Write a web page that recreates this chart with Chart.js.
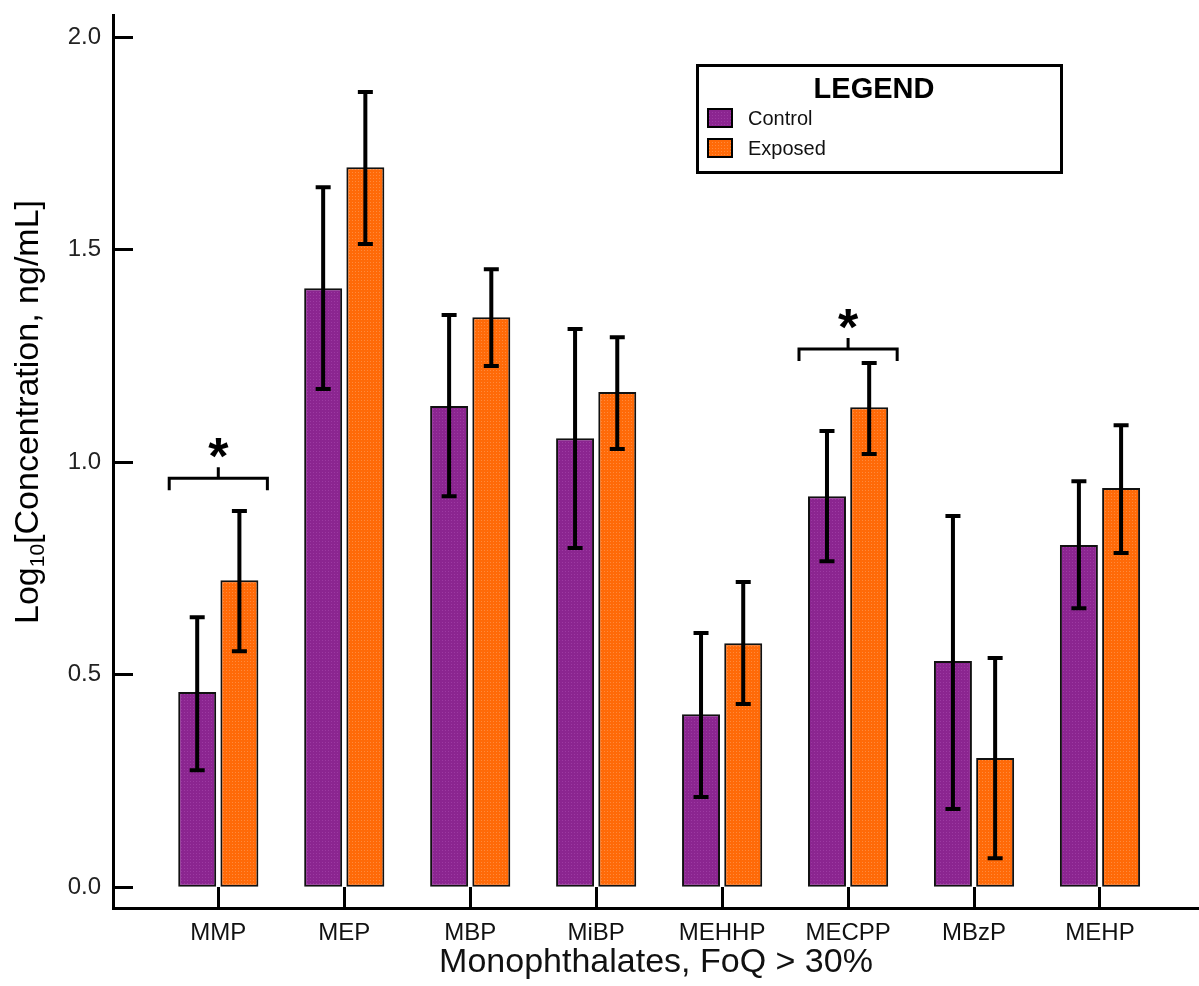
<!DOCTYPE html>
<html>
<head>
<meta charset="utf-8">
<script src="https://cdn.jsdelivr.net/npm/chart.js"></script>
<style>
  html, body { margin: 0; padding: 0; background: #fff; }
</style>
</head>
<body>
<canvas id="myChart" width="1199" height="986"></canvas>
<script>
// data (log10 ng/mL)
const categories = ['MMP', 'MEP', 'MBP', 'MiBP', 'MEHHP', 'MECPP', 'MBzP', 'MEHP'];
const controlMean = [0.459, 1.409, 1.132, 1.056, 0.407, 0.920, 0.532, 0.805];
const controlLow  = [0.275, 1.172, 0.920, 0.798, 0.212, 0.767, 0.184, 0.656];
const controlHigh = [0.635, 1.647, 1.346, 1.313, 0.598, 1.073, 0.873, 0.955];
const exposedMean = [0.722, 1.694, 1.341, 1.165, 0.574, 1.129, 0.304, 0.939];
const exposedLow  = [0.555, 1.513, 1.226, 1.031, 0.431, 1.019, 0.068, 0.786];
const exposedHigh = [0.885, 1.871, 1.454, 1.294, 0.718, 1.233, 0.539, 1.087];
const yTicks = [0, 0.5, 1.0, 1.5, 2.0];
const sigCategories = ['MMP', 'MECPP'];
const sigLevel = [0.962, 1.266];

const FONT = '"Liberation Sans", Arial, sans-serif';

// dotted fill like the original bars
function dots(base, dot) {
  const c = document.createElement('canvas');
  c.width = 3; c.height = 3;
  const g = c.getContext('2d');
  g.fillStyle = base; g.fillRect(0, 0, 3, 3);
  g.fillStyle = dot; g.fillRect(1, 1, 1, 1);
  return g.createPattern(c, 'repeat');
}
const purple = '#8B2590';
const orange = '#FF6A08';

const errorBars = {
  id: 'errorBars',
  afterDatasetsDraw(chart) {
    const ctx = chart.ctx, y = chart.scales.y;
    [[controlLow, controlHigh], [exposedLow, exposedHigh]].forEach(([lo, hi], d) => {
      chart.getDatasetMeta(d).data.forEach((bar, i) => {
        const yl = y.getPixelForValue(lo[i]), yh = y.getPixelForValue(hi[i]);
        ctx.save();
        ctx.strokeStyle = '#000';
        ctx.lineWidth = 4;
        ctx.beginPath();
        ctx.moveTo(bar.x, yl); ctx.lineTo(bar.x, yh);
        ctx.moveTo(bar.x - 7.5, yl); ctx.lineTo(bar.x + 7.5, yl);
        ctx.moveTo(bar.x - 7.5, yh); ctx.lineTo(bar.x + 7.5, yh);
        ctx.stroke();
        ctx.restore();
      });
    });
  }
};

const brackets = {
  id: 'brackets',
  afterDatasetsDraw(chart) {
    const ctx = chart.ctx, y = chart.scales.y;
    sigCategories.forEach((name, k) => {
      const i = categories.indexOf(name);
      const c = chart.getDatasetMeta(0).data[i], e = chart.getDatasetMeta(1).data[i];
      const x1 = c.x - c.width / 2 - 9, x2 = e.x + e.width / 2 + 9, mid = (x1 + x2) / 2;
      const yb = y.getPixelForValue(sigLevel[k]);
      ctx.save();
      ctx.strokeStyle = '#000';
      ctx.lineWidth = 3;
      ctx.beginPath();
      ctx.moveTo(x1, yb + 12); ctx.lineTo(x1, yb); ctx.lineTo(x2, yb); ctx.lineTo(x2, yb + 12);
      ctx.moveTo(mid, yb); ctx.lineTo(mid, yb - 11);
      ctx.stroke();
      ctx.fillStyle = '#000';
      ctx.font = 'bold 52px ' + FONT;
      ctx.textAlign = 'center';
      ctx.textBaseline = 'alphabetic';
      ctx.fillText('*', mid, yb - 4);
      ctx.restore();
    });
  }
};

const boxLegend = {
  id: 'boxLegend',
  afterDraw(chart) {
    const ctx = chart.ctx;
    ctx.save();
    ctx.strokeStyle = '#000';
    ctx.lineWidth = 3;
    ctx.strokeRect(697.5, 65.5, 364, 107);
    ctx.fillStyle = '#000';
    ctx.font = 'bold 29px ' + FONT;
    ctx.textAlign = 'center';
    ctx.fillText('LEGEND', 874, 98);
    ctx.textAlign = 'left';
    ctx.font = '20px ' + FONT;
    chart.data.datasets.forEach((ds, i) => {
      const top = 109 + i * 30;
      ctx.fillStyle = ds.backgroundColor;
      ctx.fillRect(708, top, 24, 18);
      ctx.lineWidth = 2;
      ctx.strokeRect(708, top, 24, 18);
      ctx.fillStyle = '#111';
      ctx.fillText(ds.label, 748, top + 16);
    });
    ctx.restore();
  }
};

const yTitle = {
  id: 'yTitle',
  afterDraw(chart) {
    const ctx = chart.ctx;
    const parts = [['Log', 34, 0], ['10', 21, 6], ['[Concentration, ng/mL]', 34, 0]];
    ctx.save();
    ctx.translate(38, 412);
    ctx.rotate(-Math.PI / 2);
    ctx.fillStyle = '#000';
    ctx.textBaseline = 'alphabetic';
    let total = 0;
    parts.forEach(p => { ctx.font = p[1] + 'px ' + FONT; total += ctx.measureText(p[0]).width; });
    let x = -total / 2;
    parts.forEach(p => {
      ctx.font = p[1] + 'px ' + FONT;
      ctx.fillText(p[0], x, p[2]);
      x += ctx.measureText(p[0]).width;
    });
    ctx.restore();
  }
};

function noEdgePadding(s) {
  s.paddingTop = 0; s.paddingBottom = 0; s.paddingLeft = 0; s.paddingRight = 0;
}

new Chart(document.getElementById('myChart'), {
  type: 'bar',
  data: {
    datasets: [{
      label: 'Control',
      data: categories.map((c, i) => ({ x: i, y: controlMean[i] })),
      backgroundColor: dots(purple, '#9C3AA2'),
      borderColor: '#111',
      borderWidth: 2,
      borderSkipped: false,
      categoryPercentage: 0.67,
      barPercentage: 0.9
    }, {
      label: 'Exposed',
      data: categories.map((c, i) => ({ x: i, y: exposedMean[i] })),
      backgroundColor: dots(orange, '#FF8A3C'),
      borderColor: '#111',
      borderWidth: 2,
      borderSkipped: false,
      categoryPercentage: 0.67,
      barPercentage: 0.9
    }]
  },
  options: {
    responsive: false,
    animation: false,
    devicePixelRatio: 1,
    layout: { padding: { top: 15, left: 0, right: 0, bottom: 0 } },
    plugins: { legend: { display: false }, tooltip: { enabled: false } },
    scales: {
      x: {
        type: 'linear',
        offset: false,
        min: -0.836,
        max: 7.786,
        afterBuildTicks: s => { s.ticks = categories.map((c, i) => ({ value: i })); },
        afterFit: s => { s.height = 78; noEdgePadding(s); },
        ticks: {
          callback: v => categories[v],
          font: { size: 24, family: FONT },
          color: '#111',
          padding: 32,
          maxRotation: 0,
          autoSkip: false
        },
        grid: { offset: false, drawOnChartArea: false, drawTicks: true, tickLength: -21, tickWidth: 3, tickColor: '#000' },
        border: { color: '#000', width: 3 },
        title: {
          display: true,
          text: 'Monophthalates, FoQ > 30%',
          font: { size: 34, family: FONT },
          color: '#111',
          padding: { top: 0, bottom: 3 }
        }
      },
      y: {
        min: -0.049,
        max: 2.052,
        afterBuildTicks: s => { s.ticks = yTicks.map(v => ({ value: v })); },
        afterFit: s => { s.width = 113; noEdgePadding(s); },
        ticks: {
          callback: v => v.toFixed(1),
          font: { size: 24, family: FONT },
          color: '#222',
          padding: 32
        },
        grid: { drawOnChartArea: false, drawTicks: true, tickLength: -20, tickWidth: 3, tickColor: '#000' },
        border: { color: '#000', width: 3 }
      }
    }
  },
  plugins: [errorBars, brackets, boxLegend, yTitle]
});
</script>
</body>
</html>
